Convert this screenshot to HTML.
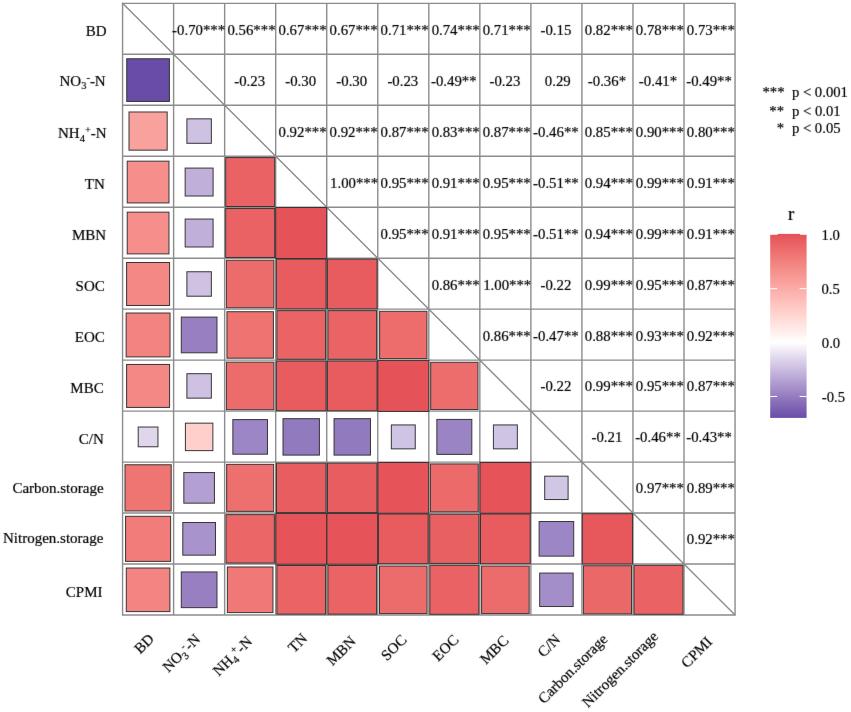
<!DOCTYPE html>
<html><head><meta charset="utf-8"><style>
html,body{margin:0;padding:0;background:#fff;width:851px;height:712px;overflow:hidden}
svg{display:block;will-change:transform}
text{font-family:"Liberation Serif", serif;font-size:14.8px;fill:#000;stroke:#000;stroke-width:0.2px}
</style></head><body>
<svg width="851" height="712" viewBox="0 0 851 712">
<rect width="851" height="712" fill="#fff"/>
<path d="M122.57 3.35V614.99M122.57 3.35H735.05M173.61 3.35V614.99M122.57 54.32H735.05M224.65 3.35V614.99M122.57 105.29H735.05M275.69 3.35V614.99M122.57 156.26H735.05M326.73 3.35V614.99M122.57 207.23H735.05M377.77 3.35V614.99M122.57 258.20H735.05M428.81 3.35V614.99M122.57 309.17H735.05M479.85 3.35V614.99M122.57 360.14H735.05M530.89 3.35V614.99M122.57 411.11H735.05M581.93 3.35V614.99M122.57 462.08H735.05M632.97 3.35V614.99M122.57 513.05H735.05M684.01 3.35V614.99M122.57 564.02H735.05M735.05 3.35V614.99M122.57 614.99H735.05M122.57 3.35L735.05 614.99" stroke="#8c8c8c" stroke-width="1.4" stroke-linecap="square" fill="none"/>
<g stroke="#363636" stroke-width="1.0"><rect x="126.75" y="58.77" width="42.67" height="42.67" fill="#684ca7"/><rect x="129.01" y="111.99" width="38.17" height="38.17" fill="#f9a29d"/><rect x="186.90" y="118.84" width="24.46" height="24.46" fill="#cec1e2"/><rect x="127.22" y="161.17" width="41.75" height="41.75" fill="#f68f8b"/><rect x="185.16" y="168.08" width="27.94" height="27.94" fill="#bfafd9"/><rect x="225.71" y="157.58" width="48.92" height="48.92" fill="#ea6263"/><rect x="127.22" y="212.14" width="41.75" height="41.75" fill="#f68f8b"/><rect x="185.16" y="219.05" width="27.94" height="27.94" fill="#bfafd9"/><rect x="225.71" y="208.55" width="48.92" height="48.92" fill="#ea6263"/><rect x="275.71" y="207.51" width="51.00" height="51.00" fill="#e55257"/><rect x="126.60" y="262.50" width="42.98" height="42.98" fill="#f48884"/><rect x="186.90" y="271.75" width="24.46" height="24.46" fill="#cec1e2"/><rect x="226.38" y="260.20" width="47.57" height="47.57" fill="#ec6b6b"/><rect x="276.35" y="259.13" width="49.71" height="49.71" fill="#e85c5f"/><rect x="327.39" y="259.13" width="49.71" height="49.71" fill="#e85c5f"/><rect x="126.15" y="313.02" width="43.88" height="43.88" fill="#f38380"/><rect x="181.28" y="317.10" width="35.70" height="35.70" fill="#977fc2"/><rect x="226.94" y="311.72" width="46.47" height="46.47" fill="#ee7371"/><rect x="276.88" y="310.63" width="48.66" height="48.66" fill="#ea6465"/><rect x="327.92" y="310.63" width="48.66" height="48.66" fill="#ea6465"/><rect x="379.64" y="311.30" width="47.30" height="47.30" fill="#ed6d6d"/><rect x="126.60" y="364.44" width="42.98" height="42.98" fill="#f48884"/><rect x="186.90" y="373.69" width="24.46" height="24.46" fill="#cec1e2"/><rect x="226.38" y="362.14" width="47.57" height="47.57" fill="#ec6b6b"/><rect x="276.35" y="361.07" width="49.71" height="49.71" fill="#e85c5f"/><rect x="327.39" y="361.07" width="49.71" height="49.71" fill="#e85c5f"/><rect x="377.79" y="360.42" width="51.00" height="51.00" fill="#e55257"/><rect x="430.68" y="362.27" width="47.30" height="47.30" fill="#ed6d6d"/><rect x="138.21" y="427.02" width="19.75" height="19.75" fill="#dfd6ec"/><rect x="185.40" y="423.16" width="27.47" height="27.47" fill="#ffcfcb"/><rect x="232.87" y="419.60" width="34.59" height="34.59" fill="#9d86c5"/><rect x="283.00" y="418.68" width="36.42" height="36.42" fill="#927abf"/><rect x="334.04" y="418.68" width="36.42" height="36.42" fill="#927abf"/><rect x="391.33" y="424.93" width="23.92" height="23.92" fill="#d0c4e4"/><rect x="436.85" y="419.41" width="34.97" height="34.97" fill="#9b84c4"/><rect x="493.41" y="424.93" width="23.92" height="23.92" fill="#d0c4e4"/><rect x="125.00" y="464.77" width="46.19" height="46.19" fill="#ef7573"/><rect x="183.83" y="472.56" width="30.60" height="30.60" fill="#b39fd2"/><rect x="226.66" y="464.35" width="47.02" height="47.02" fill="#ed6f6e"/><rect x="276.48" y="463.14" width="49.45" height="49.45" fill="#e85e60"/><rect x="327.52" y="463.14" width="49.45" height="49.45" fill="#e85e60"/><rect x="377.92" y="462.49" width="50.75" height="50.75" fill="#e65459"/><rect x="430.41" y="463.94" width="47.85" height="47.85" fill="#ec6a69"/><rect x="480.00" y="462.49" width="50.75" height="50.75" fill="#e65459"/><rect x="544.72" y="476.18" width="23.37" height="23.37" fill="#d2c6e5"/><rect x="125.57" y="516.31" width="45.05" height="45.05" fill="#f17c79"/><rect x="182.80" y="522.51" width="32.66" height="32.66" fill="#a893cc"/><rect x="225.98" y="514.64" width="48.39" height="48.39" fill="#eb6666"/><rect x="275.84" y="513.46" width="50.75" height="50.75" fill="#e65459"/><rect x="326.88" y="513.46" width="50.75" height="50.75" fill="#e65459"/><rect x="378.43" y="513.98" width="49.71" height="49.71" fill="#e85c5f"/><rect x="429.74" y="514.24" width="49.19" height="49.19" fill="#e96062"/><rect x="480.51" y="513.98" width="49.71" height="49.71" fill="#e85c5f"/><rect x="539.11" y="521.54" width="34.59" height="34.59" fill="#9d86c5"/><rect x="582.33" y="513.72" width="50.23" height="50.23" fill="#e7585c"/><rect x="126.30" y="568.02" width="43.58" height="43.58" fill="#f38481"/><rect x="181.28" y="571.95" width="35.70" height="35.70" fill="#977fc2"/><rect x="227.36" y="566.99" width="45.62" height="45.62" fill="#f07876"/><rect x="276.88" y="565.48" width="48.66" height="48.66" fill="#ea6465"/><rect x="327.92" y="565.48" width="48.66" height="48.66" fill="#ea6465"/><rect x="379.50" y="566.02" width="47.57" height="47.57" fill="#ec6b6b"/><rect x="429.87" y="565.34" width="48.92" height="48.92" fill="#ea6263"/><rect x="481.58" y="566.02" width="47.57" height="47.57" fill="#ec6b6b"/><rect x="539.69" y="573.08" width="33.45" height="33.45" fill="#a48ec9"/><rect x="583.39" y="565.75" width="48.12" height="48.12" fill="#eb6868"/><rect x="634.03" y="565.34" width="48.92" height="48.92" fill="#ea6263"/></g>
<defs><linearGradient id="cb" x1="0" y1="0" x2="0" y2="1"><stop offset="0.0000" stop-color="#e55257"/><stop offset="0.0294" stop-color="#e85c5f"/><stop offset="0.0588" stop-color="#eb6666"/><stop offset="0.0882" stop-color="#ed6f6e"/><stop offset="0.1176" stop-color="#f07876"/><stop offset="0.1471" stop-color="#f2817e"/><stop offset="0.1765" stop-color="#f48a86"/><stop offset="0.2059" stop-color="#f6928e"/><stop offset="0.2353" stop-color="#f89b96"/><stop offset="0.2647" stop-color="#faa39f"/><stop offset="0.2941" stop-color="#fbaca7"/><stop offset="0.3235" stop-color="#fdb4b0"/><stop offset="0.3529" stop-color="#febcb8"/><stop offset="0.3824" stop-color="#ffc5c1"/><stop offset="0.4118" stop-color="#ffcdc9"/><stop offset="0.4412" stop-color="#ffd5d2"/><stop offset="0.4706" stop-color="#ffdedb"/><stop offset="0.5000" stop-color="#ffe6e4"/><stop offset="0.5294" stop-color="#ffeeed"/><stop offset="0.5588" stop-color="#fff7f6"/><stop offset="0.5882" stop-color="#ffffff"/><stop offset="0.6176" stop-color="#f5f1f9"/><stop offset="0.6471" stop-color="#eae4f3"/><stop offset="0.6765" stop-color="#dfd6ec"/><stop offset="0.7059" stop-color="#d5c9e6"/><stop offset="0.7353" stop-color="#cabce0"/><stop offset="0.7647" stop-color="#c0afda"/><stop offset="0.7941" stop-color="#b5a2d3"/><stop offset="0.8235" stop-color="#aa95cd"/><stop offset="0.8529" stop-color="#a089c7"/><stop offset="0.8824" stop-color="#957cc0"/><stop offset="0.9118" stop-color="#8a70ba"/><stop offset="0.9412" stop-color="#7f64b4"/><stop offset="0.9706" stop-color="#7458ad"/><stop offset="1.0000" stop-color="#684ca7"/></linearGradient></defs><rect x="770.2" y="234.8" width="36.40" height="183.10" fill="url(#cb)"/><rect x="777.6" y="233.90" width="22.5" height="1.2" fill="#e55257"/><path d="M770.2 288.68h7M806.6 288.68h-7" stroke="#fff" stroke-width="1"/><path d="M770.2 342.57h7M806.6 342.57h-7" stroke="#fff" stroke-width="1"/><path d="M770.2 396.45h7M806.6 396.45h-7" stroke="#fff" stroke-width="1"/>
<defs><filter id="soft" x="0" y="0" width="851" height="712" filterUnits="userSpaceOnUse" color-interpolation-filters="sRGB"><feConvolveMatrix order="3" kernelMatrix="0.00524 0.06192 0.00524 0.06192 0.73137 0.06192 0.00524 0.06192 0.00524" edgeMode="duplicate"/></filter></defs>
<g filter="url(#soft)">
<text x="198.63" y="34.69" text-anchor="middle">-0.70***</text>
<text x="251.52" y="34.69" text-anchor="middle">0.56***</text>
<text x="302.56" y="34.69" text-anchor="middle">0.67***</text>
<text x="353.60" y="34.69" text-anchor="middle">0.67***</text>
<text x="404.64" y="34.69" text-anchor="middle">0.71***</text>
<text x="455.68" y="34.69" text-anchor="middle">0.74***</text>
<text x="506.72" y="34.69" text-anchor="middle">0.71***</text>
<text x="555.91" y="34.69" text-anchor="middle">-0.15</text>
<text x="608.80" y="34.69" text-anchor="middle">0.82***</text>
<text x="659.84" y="34.69" text-anchor="middle">0.78***</text>
<text x="710.88" y="34.69" text-anchor="middle">0.73***</text>
<text x="249.67" y="85.65" text-anchor="middle">-0.23</text>
<text x="300.71" y="85.65" text-anchor="middle">-0.30</text>
<text x="351.75" y="85.65" text-anchor="middle">-0.30</text>
<text x="402.79" y="85.65" text-anchor="middle">-0.23</text>
<text x="453.83" y="85.65" text-anchor="middle">-0.49**</text>
<text x="504.87" y="85.65" text-anchor="middle">-0.23</text>
<text x="557.76" y="85.65" text-anchor="middle">0.29</text>
<text x="606.95" y="85.65" text-anchor="middle">-0.36*</text>
<text x="657.99" y="85.65" text-anchor="middle">-0.41*</text>
<text x="709.03" y="85.65" text-anchor="middle">-0.49**</text>
<text x="302.56" y="136.62" text-anchor="middle">0.92***</text>
<text x="353.60" y="136.62" text-anchor="middle">0.92***</text>
<text x="404.64" y="136.62" text-anchor="middle">0.87***</text>
<text x="455.68" y="136.62" text-anchor="middle">0.83***</text>
<text x="506.72" y="136.62" text-anchor="middle">0.87***</text>
<text x="555.91" y="136.62" text-anchor="middle">-0.46**</text>
<text x="608.80" y="136.62" text-anchor="middle">0.85***</text>
<text x="659.84" y="136.62" text-anchor="middle">0.90***</text>
<text x="710.88" y="136.62" text-anchor="middle">0.80***</text>
<text x="354.10" y="187.59" text-anchor="middle">1.00***</text>
<text x="404.64" y="187.59" text-anchor="middle">0.95***</text>
<text x="455.68" y="187.59" text-anchor="middle">0.91***</text>
<text x="506.72" y="187.59" text-anchor="middle">0.95***</text>
<text x="555.91" y="187.59" text-anchor="middle">-0.51**</text>
<text x="608.80" y="187.59" text-anchor="middle">0.94***</text>
<text x="659.84" y="187.59" text-anchor="middle">0.99***</text>
<text x="710.88" y="187.59" text-anchor="middle">0.91***</text>
<text x="404.64" y="238.56" text-anchor="middle">0.95***</text>
<text x="455.68" y="238.56" text-anchor="middle">0.91***</text>
<text x="506.72" y="238.56" text-anchor="middle">0.95***</text>
<text x="555.91" y="238.56" text-anchor="middle">-0.51**</text>
<text x="608.80" y="238.56" text-anchor="middle">0.94***</text>
<text x="659.84" y="238.56" text-anchor="middle">0.99***</text>
<text x="710.88" y="238.56" text-anchor="middle">0.91***</text>
<text x="455.68" y="289.54" text-anchor="middle">0.86***</text>
<text x="507.22" y="289.54" text-anchor="middle">1.00***</text>
<text x="555.91" y="289.54" text-anchor="middle">-0.22</text>
<text x="608.80" y="289.54" text-anchor="middle">0.99***</text>
<text x="659.84" y="289.54" text-anchor="middle">0.95***</text>
<text x="710.88" y="289.54" text-anchor="middle">0.87***</text>
<text x="506.72" y="340.51" text-anchor="middle">0.86***</text>
<text x="555.91" y="340.51" text-anchor="middle">-0.47**</text>
<text x="608.80" y="340.51" text-anchor="middle">0.88***</text>
<text x="659.84" y="340.51" text-anchor="middle">0.93***</text>
<text x="710.88" y="340.51" text-anchor="middle">0.92***</text>
<text x="555.91" y="391.48" text-anchor="middle">-0.22</text>
<text x="608.80" y="391.48" text-anchor="middle">0.99***</text>
<text x="659.84" y="391.48" text-anchor="middle">0.95***</text>
<text x="710.88" y="391.48" text-anchor="middle">0.87***</text>
<text x="606.95" y="442.45" text-anchor="middle">-0.21</text>
<text x="657.99" y="442.45" text-anchor="middle">-0.46**</text>
<text x="709.03" y="442.45" text-anchor="middle">-0.43**</text>
<text x="659.84" y="493.42" text-anchor="middle">0.97***</text>
<text x="710.88" y="493.42" text-anchor="middle">0.89***</text>
<text x="710.88" y="544.38" text-anchor="middle">0.92***</text>
<text x="106.70" y="35.65" text-anchor="end" style="font-size:15.00px">BD</text>
<text x="105.71" y="85.83" text-anchor="end" style="font-size:15.00px">NO<tspan font-size="10.5" dy="3.3">3</tspan><tspan font-size="10.5" dy="-8.6">-</tspan><tspan dy="5.3">-N</tspan></text>
<text x="106.67" y="138.32" text-anchor="end" style="font-size:15.00px">NH<tspan font-size="10.5" dy="3.3">4</tspan><tspan font-size="10.5" dy="-8.6">+</tspan><tspan dy="5.3">-N</tspan></text>
<text x="104.72" y="188.74" text-anchor="end" style="font-size:15.00px">TN</text>
<text x="106.07" y="240.40" text-anchor="end" style="font-size:15.00px">MBN</text>
<text x="104.77" y="290.69" text-anchor="end" style="font-size:15.00px">SOC</text>
<text x="104.79" y="341.88" text-anchor="end" style="font-size:15.00px">EOC</text>
<text x="103.66" y="392.85" text-anchor="end" style="font-size:15.00px">MBC</text>
<text x="103.89" y="443.84" text-anchor="end" style="font-size:15.00px">C/N</text>
<text x="103.62" y="492.59" text-anchor="end" style="font-size:15.00px">Carbon.storage</text>
<text x="103.39" y="542.77" text-anchor="end" style="font-size:15.00px">Nitrogen.storage</text>
<text x="102.55" y="597.22" text-anchor="end" style="font-size:15.00px">CPMI</text>
<text transform="translate(155.03 639.72) rotate(-45)" text-anchor="end" style="font-size:15.00px">BD</text>
<text transform="translate(201.13 640.18) rotate(-45)" text-anchor="end" style="font-size:15.00px">NO<tspan font-size="10.5" dy="3.3">3</tspan><tspan font-size="10.5" dy="-8.6">-</tspan><tspan dy="5.3">-N</tspan></text>
<text transform="translate(253.21 642.45) rotate(-45)" text-anchor="end" style="font-size:15.00px">NH<tspan font-size="10.5" dy="3.3">4</tspan><tspan font-size="10.5" dy="-8.6">+</tspan><tspan dy="5.3">-N</tspan></text>
<text transform="translate(308.24 639.39) rotate(-45)" text-anchor="end" style="font-size:15.00px">TN</text>
<text transform="translate(356.78 642.15) rotate(-45)" text-anchor="end" style="font-size:15.00px">MBN</text>
<text transform="translate(407.52 640.74) rotate(-45)" text-anchor="end" style="font-size:15.00px">SOC</text>
<text transform="translate(459.48 640.80) rotate(-45)" text-anchor="end" style="font-size:15.00px">EOC</text>
<text transform="translate(509.47 641.47) rotate(-45)" text-anchor="end" style="font-size:15.00px">MBC</text>
<text transform="translate(561.29 640.31) rotate(-45)" text-anchor="end" style="font-size:15.00px">C/N</text>
<text transform="translate(608.45 639.93) rotate(-45)" text-anchor="end" style="font-size:15.00px">Carbon.storage</text>
<text transform="translate(659.03 637.19) rotate(-45)" text-anchor="end" style="font-size:15.00px">Nitrogen.storage</text>
<text transform="translate(713.06 642.75) rotate(-45)" text-anchor="end" style="font-size:15.00px">CPMI</text>
<text x="784.50" y="97.00" text-anchor="end" style="font-size:14.70px">***</text>
<text x="784.00" y="115.50" text-anchor="end" style="font-size:14.70px">**</text>
<text x="784.10" y="133.20" text-anchor="end" style="font-size:14.70px">*</text>
<text x="791.90" y="97.00" text-anchor="start" style="font-size:14.70px">p &lt; 0.001</text>
<text x="792.00" y="115.50" text-anchor="start" style="font-size:14.70px">p &lt; 0.01</text>
<text x="791.90" y="133.20" text-anchor="start" style="font-size:14.70px">p &lt; 0.05</text>
<text x="821.60" y="240.30" text-anchor="start" style="font-size:14.70px">1.0</text>
<text x="821.50" y="294.00" text-anchor="start" style="font-size:14.70px">0.5</text>
<text x="821.80" y="347.90" text-anchor="start" style="font-size:14.70px">0.0</text>
<text x="821.80" y="401.80" text-anchor="start" style="font-size:14.70px">-0.5</text>
<text x="788.10" y="219.80" text-anchor="start" style="font-size:19.00px">r</text>
</g>
</svg>
</body></html>
